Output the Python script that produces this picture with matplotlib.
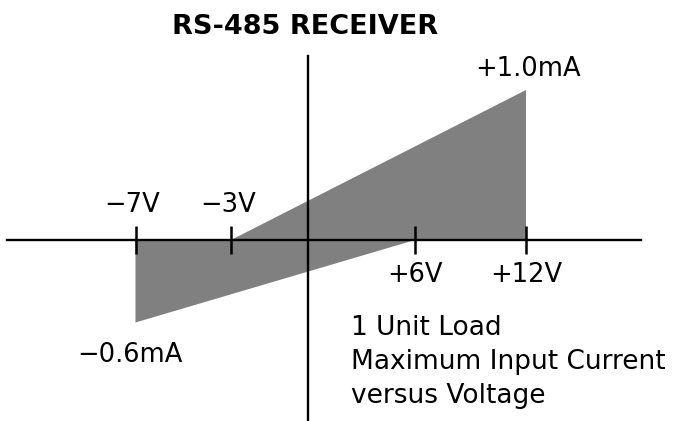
import numpy as np
import matplotlib
matplotlib.use("Agg")
import matplotlib.pyplot as plt

# ---------------- data ----------------
title = "RS-485 RECEIVER"
volt_ticks = [-7, -3, 6, 12]
volt_labels = ["\u22127V", "\u22123V", "+6V", "+12V"]
# outline of the maximum-input-current region (V, mA)
region_v = [-7, -7, 6, 12, 12, -3]
region_i = [0, -0.6, 0, 0, 1.0, 0]
current_v = [12, -7]
current_i = [1.0, -0.6]
current_labels = ["+1.0mA", "\u22120.6mA"]
note_lines = ["1 Unit Load", "Maximum Input Current", "versus Voltage"]

# ---------------- schematic (non-uniform) axis spacing ----------------
x_knots = [-7, -3, 0, 6, 12]
x_pos = [135.5, 231, 307.5, 415, 526]
y_knots = [-0.6, 0, 1.0]
y_pos = [98.5, 181, 331]


def extend(k, p):
    k = list(k); p = list(p)
    s0 = (p[1] - p[0]) / (k[1] - k[0])
    s1 = (p[-1] - p[-2]) / (k[-1] - k[-2])
    k = [k[0] - 1000] + k + [k[-1] + 1000]
    p = [p[0] - 1000 * s0] + p + [p[-1] + 1000 * s1]
    return np.array(k, float), np.array(p, float)


xk, xp = extend(x_knots, x_pos)
yk, yp = extend(y_knots, y_pos)
fx = lambda v: np.interp(v, xk, xp)
ix = lambda p: np.interp(p, xp, xk)
fy = lambda v: np.interp(v, yk, yp)
iy = lambda p: np.interp(p, yp, yk)

W, H = 673, 421
fig = plt.figure(figsize=(W / 100, H / 100), dpi=100)
plt.rcParams["font.family"] = ["DejaVu Sans"]

ax_left, ax_right, ax_top = 7, 641, 56
ax = fig.add_axes([ax_left / W, 0, (ax_right - ax_left) / W, (H - ax_top) / H])
ax.set_xscale("function", functions=(fx, ix))
ax.set_yscale("function", functions=(fy, iy))
ax.set_xlim(ix(ax_left), ix(ax_right))
ax.set_ylim(iy(0), iy(H - ax_top))
ax.patch.set_alpha(0)

ax.fill(region_v, region_i, color="#808080", lw=0, zorder=1)

for s in ["top", "right"]:
    ax.spines[s].set_visible(False)
ax.spines["bottom"].set_position(("data", 0))
ax.spines["left"].set_position(("data", 0))
for s in ["bottom", "left"]:
    ax.spines[s].set_linewidth(1.7)
    ax.spines[s].set_zorder(3)

ax.set_xticks(volt_ticks)
ax.set_xticklabels([""] * len(volt_ticks))
ax.xaxis.set_minor_locator(matplotlib.ticker.NullLocator())
ax.tick_params(axis="x", direction="inout", length=19.5, width=1.8, color="black")
ax.set_yticks([])
ax.yaxis.set_minor_locator(matplotlib.ticker.NullLocator())

fs = 18.5
for v, lab in zip(volt_ticks, volt_labels):
    if v < 0:
        off = (-3, 28)
    else:
        off = (0, -42)
    ax.annotate(lab, xy=(v, 0), xytext=off, textcoords="offset pixels",
                ha="center", va="baseline", fontsize=fs)

cur_off = [(2, 14), (-6, -40)]
for v, i, lab, off in zip(current_v, current_i, current_labels, cur_off):
    ax.annotate(lab, xy=(v, i), xytext=off, textcoords="offset pixels",
                ha="center", va="baseline", fontsize=fs)

fig.text(305 / W, 1 - 34 / H, title, ha="center", va="baseline",
         fontsize=19.5, fontweight="bold")

for k, line in enumerate(note_lines):
    fig.text(351 / W, 1 - (335 + 34 * k) / H, line, ha="left", va="baseline",
             fontsize=19)

fig.savefig("out.png", dpi=100)
